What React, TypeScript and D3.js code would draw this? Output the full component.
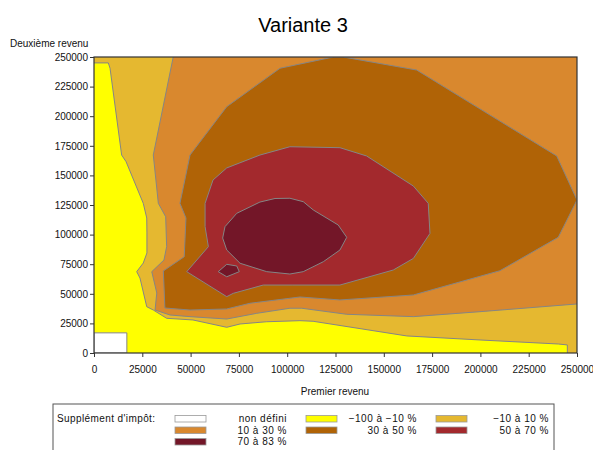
import React, { useEffect, useRef } from 'react';
import * as d3 from 'd3';

// contour boundaries, in data units [premier revenu, deuxième revenu]
const yellowEdge: [number, number][] = [
  [0, 245000], [7400, 245000], [8300, 240500], [14300, 167200], [16600, 161600],
  [25500, 126400], [27300, 114000], [27400, 101400], [27400, 84500], [25500, 76000],
  [22100, 68700], [23800, 63300], [27300, 39100], [30700, 36300], [37600, 29300],
  [51200, 27900], [68700, 21700], [75600, 24500], [89400, 26400], [106600, 27300],
  [113400, 26800], [161900, 14400], [199800, 11000], [240300, 7600], [245000, 6800],
  [245000, 0],
];

const goldEdge: [number, number][] = [
  [41000, 250000], [30700, 167200], [33300, 126400], [37100, 115100], [37600, 89800],
  [36200, 78500], [29900, 68700], [32500, 50700], [31600, 36300], [39300, 32100],
  [49700, 30700], [68700, 28700], [84200, 33500], [101400, 37800], [107500, 37800],
  [130800, 32700], [165300, 30700], [199800, 34900], [250000, 41400],
];

const brownRing: [number, number][] = [
  [250000, 129200], [240300, 97700], [210100, 69500], [165300, 49000], [127300, 44800],
  [106600, 47300], [80700, 42000], [68700, 37200], [49700, 36300], [36700, 38000],
  [35900, 69300], [46700, 81300], [47600, 114000], [44500, 126400], [49700, 167200],
  [68700, 208000], [96300, 240500], [123900, 250000], [129000, 250000], [167000, 239000],
  [239500, 166400],
];

const redRing: [number, number][] = [
  [101400, 174200], [85900, 167200], [68700, 156300], [61600, 146100], [57500, 126400],
  [57500, 106700], [59200, 89800], [48000, 68700], [68700, 47600], [72100, 50400],
  [87600, 57400], [103000, 57400], [127300, 57400], [154900, 70100], [165300, 79900],
  [173900, 101000], [173000, 126400], [165300, 141000], [141100, 166400], [127300, 173400],
];

const darkRing: [number, number][] = [
  [101400, 130700], [108300, 127800], [113500, 120800], [126400, 108100], [130800, 97700],
  [127300, 87000], [118700, 77100], [108300, 68700], [101400, 66700], [89400, 68700],
  [75600, 75800], [68700, 87000], [66600, 97100], [67800, 106700], [73900, 118000],
  [85900, 127500], [93700, 130500],
];

const darkIsland: [number, number][] = [
  [64300, 68700], [68700, 74900], [73900, 73500], [75200, 68700], [68700, 64400],
];

const undefinedCell: [number, number][] = [[0, 0], [17000, 0], [17000, 17000], [0, 17000]];

const axisTicks = [0, 25000, 50000, 75000, 100000, 125000, 150000, 175000, 200000, 225000, 250000];

const legendLabels = ['non défini', '−100 à −10 %', '−10 à 10 %', '10 à 30 %', '30 à 50 %', '50 à 70 %', '70 à 83 %'];
const legendColors = ['#ffffff', '#ffff00', '#e5b830', '#d9882e', '#b06306', '#a3292d', '#731628'];

const App: React.FC = () => {
  const svgRef = useRef<SVGSVGElement | null>(null);

  useEffect(() => {
    const svg = d3.select(svgRef.current!);
    svg.selectAll('*').remove();

    const x = d3.scaleLinear().domain([0, 250000]).range([94, 577]);
    const y = d3.scaleLinear().domain([0, 250000]).range([353, 57]);
    const line = d3.line<[number, number]>().x((d) => x(d[0])).y((d) => y(d[1]));
    const closed = d3.line<[number, number]>().x((d) => x(d[0])).y((d) => y(d[1])).curve(d3.curveLinearClosed);
    const edge = '#858585';

    svg.append('defs').append('clipPath').attr('id', 'plot')
      .append('rect').attr('x', 94).attr('y', 57).attr('width', 483).attr('height', 296);

    const plot = svg.append('g').attr('clip-path', 'url(#plot)');

    // yellow everywhere, then stack the other bands on top
    plot.append('rect').attr('x', 94).attr('y', 57).attr('width', 483).attr('height', 296).attr('fill', legendColors[1]);

    const goldArea: [number, number][] = [...yellowEdge, [250000, 0], [250000, 250000], [0, 250000]];
    plot.append('path').attr('d', closed(goldArea)).attr('fill', legendColors[2]);
    plot.append('path').attr('d', line(yellowEdge)).attr('fill', 'none').attr('stroke', edge);

    const orangeArea: [number, number][] = [...goldEdge, [250000, 250000]];
    plot.append('path').attr('d', closed(orangeArea)).attr('fill', legendColors[3]);
    plot.append('path').attr('d', line(goldEdge)).attr('fill', 'none').attr('stroke', edge);

    plot.append('path').attr('d', closed(brownRing)).attr('fill', legendColors[4]).attr('stroke', edge);
    plot.append('path').attr('d', closed(redRing)).attr('fill', legendColors[5]).attr('stroke', edge);
    plot.append('path').attr('d', closed(darkRing)).attr('fill', legendColors[6]).attr('stroke', edge);
    plot.append('path').attr('d', closed(darkIsland)).attr('fill', legendColors[6]).attr('stroke', edge);
    plot.append('path').attr('d', closed(undefinedCell)).attr('fill', legendColors[0]).attr('stroke', edge);

    // axes
    const fmt = d3.format('d');
    const xAxis = svg.append('g').attr('transform', 'translate(0,353)')
      .call(d3.axisBottom(x).tickValues(axisTicks).tickFormat((d) => fmt(d as number)).tickSize(4).tickPadding(9));
    const yAxis = svg.append('g').attr('transform', 'translate(94,0)')
      .call(d3.axisLeft(y).tickValues(axisTicks).tickFormat((d) => fmt(d as number)).tickSize(4).tickPadding(2));
    [xAxis, yAxis].forEach((a) => {
      a.select('.domain').remove();
      a.selectAll('line').attr('stroke', '#333');
      a.selectAll('text').attr('font-family', 'Liberation Sans, Arial, sans-serif').attr('font-size', 10).attr('fill', '#111');
    });

    svg.append('rect').attr('x', 94).attr('y', 57).attr('width', 483).attr('height', 296)
      .attr('fill', 'none').attr('stroke', '#333').attr('stroke-width', 1.2);

    const font = 'Liberation Sans, Arial, sans-serif';
    svg.append('text').attr('x', 303).attr('y', 31.5).attr('text-anchor', 'middle')
      .attr('font-family', font).attr('font-size', 20).attr('fill', '#000').text('Variante 3');
    svg.append('text').attr('x', 10).attr('y', 47).attr('font-family', font).attr('font-size', 10)
      .attr('fill', '#111').text('Deuxième revenu');
    svg.append('text').attr('x', 335).attr('y', 395).attr('text-anchor', 'middle').attr('font-family', font)
      .attr('font-size', 10).attr('fill', '#111').text('Premier revenu');

    // legend
    const lg = svg.append('g');
    lg.append('rect').attr('x', 53).attr('y', 404).attr('width', 501).attr('height', 60)
      .attr('fill', 'none').attr('stroke', '#555');
    lg.append('text').attr('x', 57).attr('y', 422).attr('font-family', font).attr('font-size', 10)
      .attr('letter-spacing', 0.4).attr('fill', '#111').text("Supplément d'impôt:");
    const swatchX = [175, 306, 436];
    const labelEnd = [287, 417, 549];
    legendLabels.forEach((label, i) => {
      const col = i % 3;
      const row = Math.floor(i / 3);
      const top = 415.5 + row * 11.5;
      lg.append('rect').attr('x', swatchX[col]).attr('y', top).attr('width', 31).attr('height', 6.5)
        .attr('fill', legendColors[i]).attr('stroke', '#999').attr('stroke-width', 0.8);
      lg.append('text').attr('x', labelEnd[col]).attr('y', top + 6.8).attr('text-anchor', 'end')
        .attr('font-family', font).attr('font-size', 10).attr('letter-spacing', 0.5)
        .attr('fill', '#111').text(label);
    });
  }, []);

  return <svg ref={svgRef} width={593} height={450} style={{ display: 'block', position: 'absolute', left: 0, top: 0 }} />;
};

export default App;
